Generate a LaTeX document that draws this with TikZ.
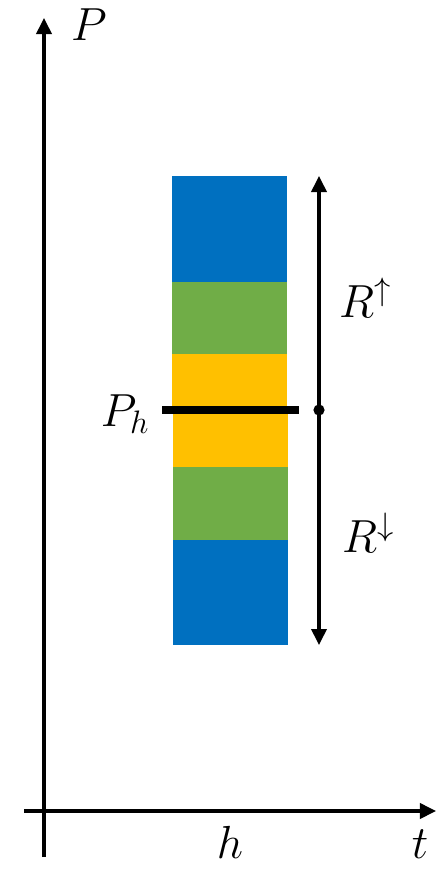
\RequirePackage{fix-cm}
\documentclass[tikz,border=0pt]{standalone}
\usetikzlibrary{arrows.meta}
\definecolor{bandblue}{HTML}{0070C0}
\definecolor{bandgreen}{HTML}{70AD47}
\definecolor{bandyellow}{HTML}{FFC000}
\tikzset{
  axis/.style={line width=2.2pt, -{Triangle[length=0.4cm, width=0.38cm]}},
  span/.style={line width=2.2pt, {Triangle[length=0.4cm, width=0.38cm]}-{Triangle[length=0.4cm, width=0.38cm]}},
  lbl/.style={font=\fontsize{33}{40}\selectfont, inner sep=0pt},
}
\begin{document}
\begin{tikzpicture}[x=0.025cm, y=-0.025cm]
\useasboundingbox (0,0) rectangle (436,870);
% stacked bands
\fill[bandblue]   (172,176) rectangle (287,282);
\fill[bandgreen]  (172,282) rectangle (287,354);
\fill[bandyellow] (172,354) rectangle (287,410);
\fill[bandyellow] (173,410) rectangle (288,467);
\fill[bandgreen]  (173,467) rectangle (288,540);
\fill[bandblue]   (173,540) rectangle (288,645);
% axes
\coordinate (ybot) at (44,857);
\coordinate (ytop) at (44,18);
\coordinate (xleft) at (24,811);
\coordinate (xright) at (436,811);
\draw[axis] (ybot) -- (ytop);
\draw[axis] (xleft) -- (xright);
% level line and range
\coordinate (barl) at (162,410);
\coordinate (barr) at (299,410);
\coordinate (rtop) at (319,176);
\coordinate (rbot) at (319,645);
\coordinate (rmid) at (319,410);
\draw[line width=5pt] (barl) -- (barr);
\draw[span] (rbot) -- (rtop);
\fill (rmid) circle[radius=0.14cm];
% labels
\node[lbl] (plbl) at (89,25) {$P$};
\node[lbl, anchor=base] (tlbl) at (420,858) {$t$};
\node[lbl, anchor=base] (hlbl) at (230,858) {$h$};
\node[lbl] (phlbl) at (125,414) {$P_h$};
\node[lbl] (rup) at (365,298) {$R^{\uparrow}$};
\node[lbl] (rdown) at (368,533) {$R^{\downarrow}$};
\end{tikzpicture}
\end{document}
